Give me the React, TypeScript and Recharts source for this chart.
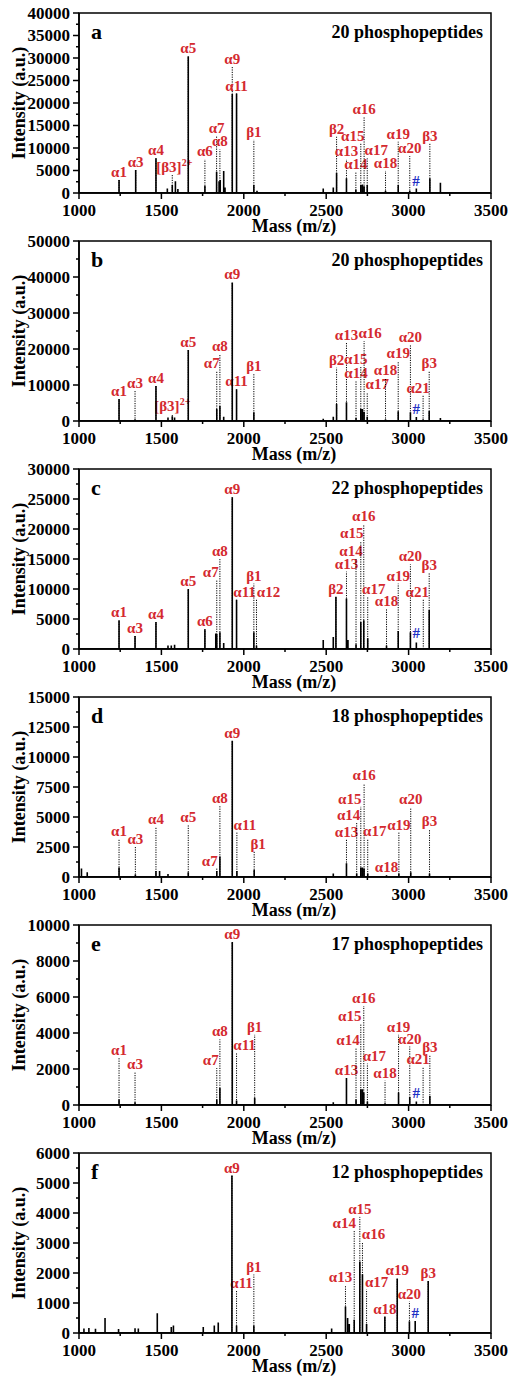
import React from "react";
import { ComposedChart, Line, XAxis, YAxis, ReferenceLine, ReferenceArea, ReferenceDot } from "recharts";

const SERIF = '"Liberation Serif", "Times New Roman", serif';
const RED = "#d42a2f";
const BLUE = "#1f2fc4";
const W = 492;
const H = 228;

const massTicks = [1000, 1250, 1500, 1750, 2000, 2250, 2500, 2750, 3000, 3250, 3500];

// peaks: [m/z, intensity]; labels: [m/z, top of dotted line, name]
const peaksA = [
  [1243, 2900], [1344, 5100], [1467, 7700], [1536, 1000], [1566, 1800], [1585, 2600], [1600, 900],
  [1663, 30400], [1764, 1600], [1835, 4700], [1850, 2600], [1857, 2900], [1878, 4900], [1886, 1200],
  [1930, 22000], [1956, 22100], [2061, 1800], [2080, 500], [2482, 1000], [2543, 1200], [2563, 4500],
  [2623, 3300], [2680, 800], [2710, 1800], [2720, 1900], [2730, 1500], [2749, 1800], [2860, 500],
  [2937, 1800], [3007, 500], [3047, 1000], [3129, 3300], [3193, 2300],
];
const labelsA = [
  [1243, 2900, "α1"], [1344, 5100, "α3"], [1467, 7700, "α4"], [1566, 4000, "[β3]2+"], [1663, 30400, "α5"],
  [1764, 7500, "α6"], [1835, 12700, "α7"], [1855, 9700, "α8"], [1930, 28000, "α9"], [1956, 22100, "α11"],
  [2061, 11800, "β1"], [2563, 12500, "β2"], [2623, 7500, "α13"], [2680, 4600, "α14"], [2710, 11000, "α15"],
  [2730, 17000, "α16"], [2749, 7700, "α17"], [2860, 4900, "α18"], [2937, 11400, "α19"], [3007, 8200, "α20"],
  [3129, 11000, "β3"],
];
const hashA = [3045, 1000];
const shiftA = { "[β3]2+": 2, "α15": -8, "α17": 9 };

const peaksB = [
  [1243, 6100], [1340, 500], [1467, 9700], [1540, 1000], [1566, 1300], [1580, 1000], [1663, 19700],
  [1836, 3300], [1855, 4200], [1878, 1200], [1930, 38500], [1956, 8800], [2061, 2400], [2482, 600],
  [2543, 1200], [2563, 4700], [2623, 5200], [2681, 800], [2710, 3300], [2720, 3300], [2730, 2500],
  [2749, 1200], [2860, 500], [2937, 2700], [3011, 2400], [3047, 1100], [3088, 500], [3125, 2800], [3193, 800],
];
const labelsB = [
  [1243, 6100, "α1"], [1340, 8400, "α3"], [1467, 9700, "α4"], [1566, 2000, "[β3]2+"], [1663, 19700, "α5"],
  [1836, 14000, "α7"], [1855, 18500, "α8"], [1930, 38500, "α9"], [1956, 8800, "α11"], [2061, 13000, "β1"],
  [2563, 14800, "β2"], [2623, 21700, "α13"], [2681, 11100, "α14"], [2710, 15000, "α15"], [2730, 22200, "α16"],
  [2749, 8000, "α17"], [2860, 12000, "α18"], [2937, 16600, "α19"], [3011, 21200, "α20"], [3088, 7000, "α21"],
  [3125, 13900, "β3"],
];
const hashB = [3047, 1100];
const shiftB = { "α7": -5, "α15": -5, "α16": 6, "α17": 10, "α21": -5 };

const peaksC = [
  [1243, 4800], [1340, 2150], [1467, 4500], [1540, 600], [1560, 600], [1580, 700], [1663, 10000],
  [1764, 3300], [1830, 2600], [1836, 2500], [1855, 2800], [1878, 1000], [1930, 25300], [1956, 8200],
  [2061, 2800], [2077, 600], [2482, 1500], [2543, 2000], [2559, 8700], [2623, 8400], [2632, 1500],
  [2681, 800], [2710, 4500], [2728, 4800], [2752, 1800], [2866, 600], [2937, 3000], [3011, 2800],
  [3047, 1100], [3125, 6500],
];
const labelsC = [
  [1243, 4800, "α1"], [1340, 2150, "α3"], [1467, 4500, "α4"], [1663, 10000, "α5"], [1764, 3300, "α6"],
  [1836, 11500, "α7"], [1855, 15000, "α8"], [1930, 25300, "α9"], [1956, 8200, "α11"], [2061, 10900, "β1"],
  [2077, 8200, "α12"], [2559, 8700, "β2"], [2623, 12900, "α13"], [2681, 15000, "α14"], [2710, 18000, "α15"],
  [2728, 20800, "α16"], [2752, 8700, "α17"], [2866, 6600, "α18"], [2937, 10900, "α19"], [3011, 14100, "α20"],
  [3089, 8200, "α21"], [3125, 12600, "β3"],
];
const hashC = [3047, 1300];
const shiftC = { "α7": -6, "α11": 8, "α12": 12, "α14": -5, "α15": -9, "α17": 6, "α21": -6 };

const peaksD = [
  [1015, 700], [1050, 400], [1243, 800], [1342, 200], [1467, 500], [1489, 500], [1540, 250],
  [1663, 400], [1836, 500], [1855, 1700], [1930, 11350], [1958, 500], [2063, 600], [2543, 300],
  [2623, 1150], [2685, 300], [2710, 800], [2720, 800], [2730, 700], [2752, 300], [2866, 150],
  [2941, 300], [3013, 400], [3127, 300],
];
const labelsD = [
  [1243, 3150, "α1"], [1342, 2500, "α3"], [1467, 4200, "α4"], [1663, 4300, "α5"], [1836, 700, "α7"],
  [1855, 5900, "α8"], [1930, 11350, "α9"], [1958, 3700, "α11"], [2063, 2100, "β1"], [2623, 3100, "α13"],
  [2685, 4500, "α14"], [2710, 5850, "α15"], [2730, 7800, "α16"], [2752, 3200, "α17"], [2866, 200, "α18"],
  [2941, 3700, "α19"], [3013, 5800, "α20"], [3127, 4000, "β3"],
];
const shiftD = { "α7": -7, "α11": 8, "β1": 4, "α14": -8, "α15": -11, "α17": 7 };

const peaksE = [
  [1243, 300], [1340, 150], [1836, 300], [1855, 950], [1930, 9050], [1956, 250], [2066, 400],
  [2543, 150], [2623, 1500], [2681, 300], [2710, 880], [2720, 880], [2728, 700], [2750, 200],
  [2857, 100], [2939, 700], [3007, 450], [3047, 200], [3129, 500],
];
const labelsE = [
  [1243, 2600, "α1"], [1340, 1850, "α3"], [1836, 2050, "α7"], [1855, 3650, "α8"], [1930, 9050, "α9"],
  [1956, 2870, "α11"], [2066, 3900, "β1"], [2623, 1500, "α13"], [2681, 3150, "α14"], [2710, 4500, "α15"],
  [2728, 5500, "α16"], [2750, 2300, "α17"], [2857, 1350, "α18"], [2939, 3900, "α19"], [3007, 3250, "α20"],
  [3088, 2100, "α21"], [3129, 2800, "β3"],
];
const hashE = [3047, 200];
const shiftE = { "α7": -6, "α11": 8, "α14": -8, "α15": -11, "α17": 7, "α21": -5 };

const peaksF = [
  [1030, 150], [1060, 170], [1100, 140], [1158, 500], [1240, 130], [1340, 160], [1360, 150],
  [1475, 660], [1560, 200], [1573, 250], [1754, 200], [1821, 250], [1845, 350], [1928, 5250],
  [1956, 250], [2061, 250], [2533, 150], [2617, 880], [2630, 500], [2640, 300], [2670, 440],
  [2704, 2380], [2720, 1960], [2745, 300], [2856, 550], [2931, 1820], [3005, 390], [3040, 400], [3119, 1730],
];
const labelsF = [
  [1928, 5250, "α9"], [1956, 1400, "α11"], [2061, 1950, "β1"], [2617, 1600, "α13"], [2670, 3400, "α14"],
  [2704, 3870, "α15"], [2720, 3040, "α16"], [2745, 1450, "α17"], [2856, 550, "α18"], [2931, 1820, "α19"],
  [3005, 1050, "α20"], [3119, 1730, "β3"],
];
const hashF = [3040, 400];
const shiftF = { "α11": 5, "α13": -5, "α14": -10, "α16": 11, "α17": 10 };

const panels = [
  { letter: "a", title: "20 phosphopeptides", yMax: 40000, yStep: 5000, peaks: peaksA, labels: labelsA, hash: hashA, shift: shiftA },
  { letter: "b", title: "20 phosphopeptides", yMax: 50000, yStep: 10000, peaks: peaksB, labels: labelsB, hash: hashB, shift: shiftB },
  { letter: "c", title: "22 phosphopeptides", yMax: 30000, yStep: 5000, peaks: peaksC, labels: labelsC, hash: hashC, shift: shiftC },
  { letter: "d", title: "18 phosphopeptides", yMax: 15000, yStep: 2500, peaks: peaksD, labels: labelsD, hash: null, shift: shiftD },
  { letter: "e", title: "17 phosphopeptides", yMax: 10000, yStep: 2000, peaks: peaksE, labels: labelsE, hash: hashE, shift: shiftE },
  { letter: "f", title: "12 phosphopeptides", yMax: 6000, yStep: 1000, peaks: peaksF, labels: labelsF, hash: hashF, shift: shiftF },
];

// stick spectrum -> line trace that drops to the baseline around every peak
const toTrace = (peaks: number[][]) => {
  const pts = [{ mz: 1000, y: 0 }];
  [...peaks].sort((a, b) => a[0] - b[0]).forEach(([mz, h]) => {
    pts.push({ mz, y: 0 }, { mz, y: h }, { mz, y: 0 });
  });
  pts.push({ mz: 3500, y: 0 });
  return pts;
};

const PeakLabel = (props: any) => {
  const { viewBox, txt, shiftX = 0, tone = RED, size = 15 } = props;
  if (!viewBox) return null;
  const x = viewBox.x + shiftX;
  const y = viewBox.y - 3;
  const sup = txt.endsWith("2+");
  return (
    <text x={x} y={y} textAnchor="middle" fill={tone} fontSize={size} fontWeight="bold" fontFamily={SERIF}>
      {sup ? (
        <>
          {txt.slice(0, -2)}
          <tspan dy={-6} fontSize={10}>2+</tspan>
        </>
      ) : txt}
    </text>
  );
};

const XTick = (p: any) => {
  const { x, y, payload } = p;
  const major = payload.value % 500 === 0;
  return (
    <g>
      <line x1={x} x2={x} y1={y} y2={y + (major ? 6 : 3)} stroke="#000" strokeWidth={1.5} />
      {major && (
        <text x={x} y={y + 17} textAnchor="middle" dominantBaseline="central" fontSize={17} fontWeight="bold" fontFamily={SERIF} fill="#000">
          {payload.value}
        </text>
      )}
    </g>
  );
};

const makeYTick = (step: number) => (p: any) => {
  const { x, y, payload } = p;
  const major = payload.value % step === 0;
  return (
    <g>
      <line x1={x - (major ? 6 : 3)} x2={x} y1={y} y2={y} stroke="#000" strokeWidth={1.5} />
      {major && (
        <text x={x - 9} y={y} textAnchor="end" dominantBaseline="central" fontSize={17} fontWeight="bold" fontFamily={SERIF} fill="#000">
          {payload.value}
        </text>
      )}
    </g>
  );
};

const XTitle = (props: any) => {
  const { viewBox } = props;
  if (!viewBox) return null;
  return (
    <text x={viewBox.x + viewBox.width / 2 + 9} y={viewBox.y + 33} textAnchor="middle" dominantBaseline="central" fontSize={18} fontWeight="bold" fontFamily={SERIF} fill="#000">
      Mass (m/z)
    </text>
  );
};

const YTitle = (props: any) => {
  const { viewBox } = props;
  if (!viewBox) return null;
  const cx = viewBox.x + 11;
  const cy = viewBox.y + viewBox.height / 2;
  return (
    <text x={cx} y={cy} transform={`rotate(-90 ${cx} ${cy})`} textAnchor="middle" dominantBaseline="central" fontSize={18} fontWeight="bold" fontFamily={SERIF} fill="#000">
      Intensity (a.u.)
    </text>
  );
};

const Panel = ({ cfg }: any) => {
  const trace = toTrace(cfg.peaks);
  const yTicks: number[] = [];
  for (let v = 0; v <= cfg.yMax; v += cfg.yStep / 2) yTicks.push(v);
  return (
    <div style={{ position: "relative", width: W, height: H }}>
      <ComposedChart width={W} height={H} data={trace} margin={{ top: 5, right: 9, bottom: 0, left: 0 }}>
        <XAxis
          dataKey="mz"
          type="number"
          domain={[1000, 3500]}
          ticks={massTicks}
          interval={0}
          tickSize={0}
          tickMargin={0}
          height={43}
          tick={XTick}
          tickLine={false}
          axisLine={{ stroke: "#000", strokeWidth: 1.5 }}
          label={<XTitle />}
          allowDataOverflow
        />
        <YAxis
          type="number"
          domain={[0, cfg.yMax]}
          ticks={yTicks}
          interval={0}
          tickSize={0}
          tickMargin={0}
          width={71}
          tick={makeYTick(cfg.yStep)}
          tickLine={false}
          axisLine={{ stroke: "#000", strokeWidth: 1.5 }}
          label={<YTitle />}
          allowDataOverflow
        />
        <ReferenceArea x1={1000} x2={3500} y1={0} y2={cfg.yMax} fill="none" fillOpacity={0} stroke="#000" strokeWidth={1.5} />
        {cfg.labels.map(([mz, top, txt]: any) => (
          <ReferenceLine
            key={txt}
            segment={[{ x: mz, y: 0 }, { x: mz, y: top }]}
            stroke="#000"
            strokeWidth={1}
            strokeDasharray="1.2 1.2"
            label={<PeakLabel txt={txt} shiftX={cfg.shift[txt] ?? 0} />}
          />
        ))}
        {cfg.hash && (
          <ReferenceDot x={cfg.hash[0]} y={cfg.hash[1]} r={0} fill="none" stroke="none" label={<PeakLabel txt="#" tone={BLUE} size={15} />} />
        )}
        <Line dataKey="y" type="linear" stroke="#000" strokeWidth={1.6} dot={false} isAnimationActive={false} />
      </ComposedChart>
      <div style={{ position: "absolute", left: 83, top: 10, fontFamily: SERIF, fontWeight: "bold", fontSize: 22, lineHeight: "28px" }}>
        {cfg.letter}
      </div>
      <div style={{ position: "absolute", right: 17, top: 13, fontFamily: SERIF, fontWeight: "bold", fontSize: 18, lineHeight: "22px", whiteSpace: "nowrap" }}>
        {cfg.title}
      </div>
    </div>
  );
};

export default function App() {
  return (
    <div style={{ width: W, padding: "8px 0 0 8px" }}>
      <style>{"body{margin:0;overflow:hidden} .recharts-surface{overflow:visible}"}</style>
      {panels.map((p) => (
        <Panel key={p.letter} cfg={p} />
      ))}
    </div>
  );
}
